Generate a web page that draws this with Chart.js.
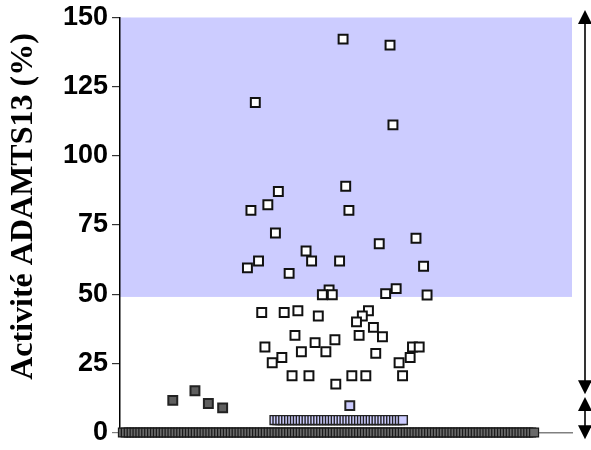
<!DOCTYPE html>
<html>
<head>
<meta charset="utf-8">
<title>Activité ADAMTS13</title>
<script src="https://cdn.jsdelivr.net/npm/chart.js@4.4.1/dist/chart.umd.min.js"></script>
<style>
    html, body { margin: 0; padding: 0; background: #ffffff; }
    #wrap { width: 591px; height: 450px; position: relative; }
</style>
</head>
<body>
<div id="wrap"><canvas id="adamts-chart"></canvas></div>
<script>
// patients with undetectable activity (0 %), one per rank along x
const zeroValues = [
    0, 0, 0, 0, 0, 0, 0, 0, 0, 0, 0, 0, 0, 0, 0, 0, 0, 0, 0, 0,
    0, 0, 0, 0, 0, 0, 0, 0, 0, 0, 0, 0, 0, 0, 0, 0, 0, 0, 0, 0,
    0, 0, 0, 0, 0, 0, 0, 0, 0, 0, 0, 0, 0, 0, 0, 0, 0, 0, 0, 0,
    0, 0, 0, 0, 0, 0, 0, 0, 0, 0, 0, 0, 0, 0, 0, 0, 0, 0, 0, 0,
    0, 0, 0, 0, 0, 0, 0, 0, 0, 0, 0, 0, 0, 0, 0, 0, 0, 0, 0, 0,
    0, 0, 0, 0, 0, 0, 0, 0, 0, 0, 0, 0, 0, 0, 0, 0, 0, 0, 0, 0,
    0, 0, 0, 0, 0, 0, 0, 0, 0, 0, 0, 0, 0, 0, 0, 0, 0, 0, 0, 0,
    0, 0
];
const zeroStart = 1;

// row of light blue squares just above zero
const lowBlueValues = [
    4.5, 4.5, 4.5, 4.5, 4.5, 4.5, 4.5, 4.5, 4.5, 4.5, 4.5, 4.5, 4.5, 4.5, 4.5,
    4.5, 4.5, 4.5, 4.5, 4.5, 4.5, 4.5, 4.5, 4.5, 4.5, 4.5, 4.5, 4.5, 4.5, 4.5,
    4.5, 4.5, 4.5, 4.5, 4.5, 4.5, 4.5, 4.5, 4.5, 4.5, 4.5, 4.5, 4.5, 4.5, 4.5
];
const lowBlueStart = 53;

// isolated light blue square
const blueX = [78.8];
const blueY = [9.7];

// dark squares with low activity
const darkX = [18.1, 25.7, 30.3, 35.2];
const darkY = [11.6, 15.1, 10.5, 8.9];

// white squares
const whiteX = [
    76.5, 92.6, 93.6, 46.4, 77.4, 54.3, 50.7, 44.9, 78.5, 53.3,
    101.5, 88.9, 63.8, 65.7, 47.5, 75.3, 104.1, 43.7, 58.0, 94.7,
    71.7, 69.4, 72.8, 91.1, 105.3, 48.6, 56.3, 61.0, 68.0, 85.2,
    83.1, 81.1, 86.9, 90.0, 82.0, 60.0, 73.7, 66.9, 49.7, 70.6,
    62.2, 55.5, 52.2, 100.3, 102.6, 99.5, 95.7, 87.7, 59.0, 64.8,
    79.5, 84.3, 96.9, 74.0
];
const whiteY = [
    142.2, 140.0, 111.2, 119.3, 89.0, 87.1, 82.3, 80.3, 80.3, 72.1,
    70.2, 68.2, 65.6, 62.0, 62.0, 62.0, 60.1, 59.5, 57.5, 52.0,
    51.5, 49.8, 49.8, 50.2, 49.7, 43.4, 43.4, 44.0, 42.1, 44.0,
    42.1, 40.0, 38.0, 34.6, 35.1, 35.1, 33.5, 32.5, 30.9, 29.2,
    29.2, 27.1, 25.2, 30.9, 30.9, 27.1, 25.2, 28.6, 20.5, 20.5,
    20.5, 20.5, 20.5, 17.5
];

// y ticks and shaded normal range
const yTicks = [0, 25, 50, 75, 100, 125, 150];
const normalRange = [49, 150];
// double arrows at the right, in y units
const arrowSpans = [[152.7, 13.8], [12.8, -2.4]];
const yTitle = "Activité ADAMTS13 (%)";

function toPoints(xs, ys) {
    return xs.map((x, i) => ({ x: x, y: ys[i] }));
}

function rowPoints(values, start) {
    return values.map((v, i) => ({ x: start + i, y: v }));
}

// light blue band for the normal range, under axes and points
const bandPlugin = {
    id: "band",
    beforeDraw(chart) {
        const { ctx, chartArea, scales } = chart;
        const top = scales.y.getPixelForValue(normalRange[1]);
        const bottom = scales.y.getPixelForValue(normalRange[0]);
        ctx.save();
        ctx.fillStyle = "#ccccff";
        ctx.fillRect(chartArea.left, top, chartArea.right - chartArea.left, bottom - top);
        ctx.restore();
    }
};

// vertical double arrows at the right edge, plus the y title
const arrowPlugin = {
    id: "arrows",
    afterDraw(chart) {
        const { ctx, chartArea, scales } = chart;
        const x = chartArea.right + 13;
        const head = 14;
        const half = 7;
        ctx.save();
        ctx.strokeStyle = "#000";
        ctx.fillStyle = "#000";
        ctx.lineWidth = 1.6;
        arrowSpans.forEach(span => {
            const yTop = scales.y.getPixelForValue(span[0]);
            const yBot = scales.y.getPixelForValue(span[1]);
            ctx.beginPath();
            ctx.moveTo(x, yTop + head - 1);
            ctx.lineTo(x, yBot - head + 1);
            ctx.stroke();
            ctx.beginPath();
            ctx.moveTo(x, yTop);
            ctx.lineTo(x - half, yTop + head);
            ctx.lineTo(x + half, yTop + head);
            ctx.closePath();
            ctx.fill();
            ctx.beginPath();
            ctx.moveTo(x, yBot);
            ctx.lineTo(x - half, yBot - head);
            ctx.lineTo(x + half, yBot - head);
            ctx.closePath();
            ctx.fill();
        });

        // rotated axis title, a little above the middle of the axis
        ctx.translate(chartArea.left - 96, chartArea.top + 189);
        ctx.rotate(-Math.PI / 2);
        ctx.font = "bold 32px 'Liberation Serif', 'Times New Roman', serif";
        ctx.textAlign = "center";
        ctx.textBaseline = "middle";
        ctx.fillText(yTitle, 0, 0);
        ctx.restore();
    }
};

const pointBase = {
    pointStyle: "rect",
    pointRadius: 6.3,
    borderWidth: 2,
    showLine: false,
    clip: false
};

new Chart(document.getElementById("adamts-chart"), {
    type: "scatter",
    data: {
        datasets: [
            Object.assign({}, pointBase, {
                label: "blanc",
                data: toPoints(whiteX, whiteY),
                backgroundColor: "#ffffff",
                borderColor: "#111111"
            }),
            Object.assign({}, pointBase, {
                label: "bleu",
                data: toPoints(blueX, blueY),
                backgroundColor: "#ccccff",
                borderColor: "#222222"
            }),
            Object.assign({}, pointBase, {
                label: "gris",
                data: toPoints(darkX, darkY),
                backgroundColor: "#5f5f5f",
                borderColor: "#222222"
            }),
            Object.assign({}, pointBase, {
                label: "bleu bas",
                data: rowPoints(lowBlueValues, lowBlueStart),
                backgroundColor: "#ccccff",
                borderColor: "#222222",
                borderWidth: 1.4
            }),
            Object.assign({}, pointBase, {
                label: "zero",
                data: rowPoints(zeroValues, zeroStart),
                backgroundColor: "#6a6a6a",
                borderColor: "#1a1a1a",
                borderWidth: 1.2
            })
        ]
    },
    options: {
        responsive: true,
        maintainAspectRatio: false,
        animation: false,
        events: [],
        layout: {
            padding: { left: 4, right: 19, top: 17, bottom: 13.5 }
        },
        plugins: {
            legend: { display: false },
            tooltip: { enabled: false }
        },
        scales: {
            x: {
                type: "linear",
                min: 0,
                max: 155,
                ticks: { display: false },
                grid: { display: false },
                border: { display: true, color: "#808080", width: 1.5 },
                afterFit: scale => { scale.height = 0; }
            },
            y: {
                min: 0,
                max: 150,
                afterBuildTicks: scale => {
                    scale.ticks = yTicks.map(v => ({ value: v }));
                },
                ticks: {
                    color: "#000",
                    padding: 4,
                    font: { family: "'Liberation Sans', Arial, sans-serif", weight: "bold", size: 27, lineHeight: 1 }
                },
                grid: {
                    drawOnChartArea: false,
                    drawTicks: true,
                    tickLength: 8,
                    color: ctx => (ctx.tick && ctx.tick.value === 0 ? "#808080" : "#333333"),
                    lineWidth: 1.2
                },
                border: { display: true, color: "#000", width: 1.5 },
                title: { display: false },
                afterFit: scale => { scale.width = 116; }
            }
        }
    },
    plugins: [bandPlugin, arrowPlugin]
});
</script>
</body>
</html>
